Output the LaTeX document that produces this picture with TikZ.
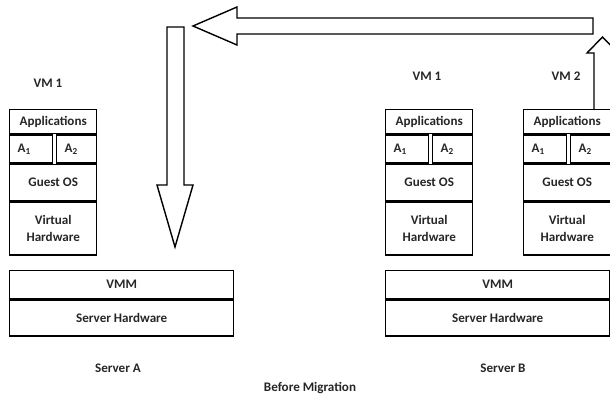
\documentclass[tikz,border=0pt]{standalone}
\usepackage{fontspec}
\setmainfont{Carlito}
\usetikzlibrary{positioning}

\begin{document}
\begin{tikzpicture}[x=0.025cm, y=-0.025cm, every node/.style={font=\fontsize{9.3}{11}\selectfont\bfseries, text=black!85}]
    \tikzstyle{layer} = [draw, line width=1pt, rectangle, inner sep=0pt, minimum width=2.175cm, align=center]
    \tikzstyle{appbox} = [draw, line width=1pt, rectangle, inner xsep=0.2cm, inner ysep=0pt, minimum height=0.7cm, align=left]
    \tikzstyle{hostbox} = [draw, line width=1pt, rectangle, inner sep=0pt, minimum width=5.6cm, align=center]
    \tikzstyle{bigarrow} = [draw, line width=1pt, fill=white, line join=miter]

    \useasboundingbox (0,0) rectangle (610,398);

    % virtual machines
    \foreach \vm/\px in {vmA/9, vmB/385, vmC/523} {
        \node [layer, minimum height=0.6cm, anchor=north west] (\vm apps) at (\px,109) {Applications};
        \node [appbox, text width=0.675cm, anchor=north west] (\vm a1) at (\vm apps.south west) {A\textsubscript{1}};
        \node [appbox, text width=0.6cm, anchor=north east] (\vm a2) at (\vm apps.south east) {A\textsubscript{2}};
        \node [layer, minimum height=0.9cm, anchor=north west] (\vm os) at (\vm a1.south west) {Guest OS};
        \node [layer, minimum height=1.325cm, below=0pt of \vm os] (\vm hw) {Virtual\\[1pt]Hardware};
    }

    \node at (48,83) (vmAlabel) {VM 1};
    \node at (427,76) (vmBlabel) {VM 1};
    \node at (566,76) (vmClabel) {VM 2};

    % physical servers
    \node [hostbox, minimum height=0.7cm, anchor=north west] (vmmA) at (9,270) {VMM};
    \node [hostbox, minimum height=0.9cm, below=0pt of vmmA] (hwA) {Server Hardware};
    \node [hostbox, minimum height=0.7cm, anchor=north west] (vmmB) at (385,270) {VMM};
    \node [hostbox, minimum height=0.9cm, below=0pt of vmmB] (hwB) {Server Hardware};

    \node at (118,368) (srvA) {Server A};
    \node at (503,368) (srvB) {Server B};
    \node at (310,388) (title) {Before Migration};

    % migration path
    \draw [bigarrow] (594,109) -- (594,53) -- (587,53) -- (602.5,37) -- (618,53) -- (611,53) -- (611,109);
    \draw [bigarrow] (593,18) -- (237,18) -- (237,7) -- (193,26) -- (237,45) -- (237,34) -- (593,34) -- cycle;
    \draw [bigarrow] (167,27) -- (184,27) -- (184,185) -- (193,185) -- (175,247) -- (157,185) -- (167,185) -- cycle;
\end{tikzpicture}
\end{document}
